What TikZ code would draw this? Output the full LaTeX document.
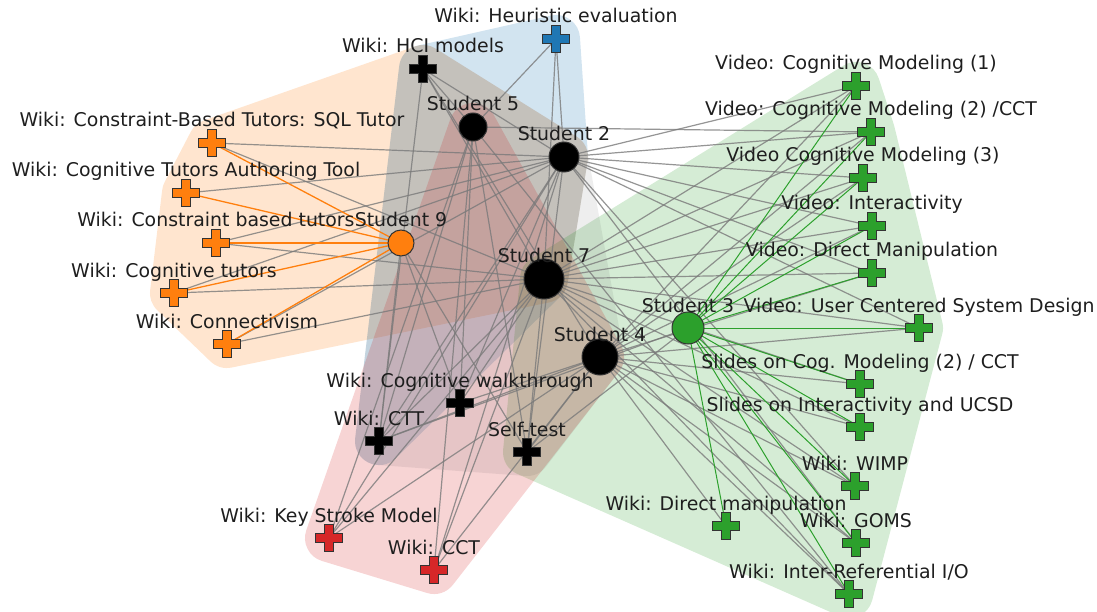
\documentclass[tikz,border=0pt]{standalone}
\usepackage{fontspec}
\setmainfont{DejaVu Sans}
\definecolor{cO}{HTML}{FF7F0E}
\definecolor{cB}{HTML}{1F77B4}
\definecolor{cG}{HTML}{2CA02C}
\definecolor{cR}{HTML}{D62728}
\definecolor{cK}{HTML}{000000}
\definecolor{hullK}{HTML}{202020}
\definecolor{edgegray}{HTML}{7A7A7A}
\definecolor{xline}{HTML}{333333}
\definecolor{txt}{HTML}{1E1E1E}
\pgfdeclarelayer{hulls}
\pgfdeclarelayer{edges}
\pgfsetlayers{hulls,edges,main}
\newcommand\rescross[2]{%
  \filldraw[fill=#2, draw=xline, line width=1, shift={(#1)}]
    (-4.5,-13.5) -- (4.5,-13.5) -- (4.5,-4.5) -- (13.5,-4.5) -- (13.5,4.5) -- (4.5,4.5)
    -- (4.5,13.5) -- (-4.5,13.5) -- (-4.5,4.5) -- (-13.5,4.5) -- (-13.5,-4.5) -- (-4.5,-4.5) -- cycle;}
\begin{document}
\begin{tikzpicture}[x=1pt,y=-1pt,
  lbl/.style={font=\fontsize{18.9}{21}\selectfont, text=txt, anchor=base, inner sep=0},
  ge/.style={draw=edgegray, line width=1.2, opacity=0.8},
  oe/.style={draw=cO, line width=1.3},
  gre/.style={draw=cG, line width=1},
  hull/.style={line width=48, line join=round, draw=#1, fill=#1},
  stud/.style={circle, draw=xline, line width=1, fill=#1, inner sep=0},
]
\useasboundingbox (0,0) rectangle (1097,612);

% ---------- resources (coordinates) ----------
\coordinate (heur) at (556,39);
\coordinate (hci) at (423,69);
\coordinate (sql) at (212,143);
\coordinate (cta) at (186,193);
\coordinate (cbt) at (216,243);
\coordinate (ctut) at (174,293);
\coordinate (conn) at (227,344);
\coordinate (cw) at (460,403);
\coordinate (ctt) at (379,441);
\coordinate (self) at (527,452);
\coordinate (ksm) at (329,538);
\coordinate (cct) at (434,570);
\coordinate (v1) at (856,86);
\coordinate (v2) at (871,132);
\coordinate (v3) at (863,178);
\coordinate (vi) at (872,226);
\coordinate (vdm) at (872,273);
\coordinate (vucsd) at (919,328);
\coordinate (scm) at (860,384);
\coordinate (si) at (860,427);
\coordinate (wimp) at (855,486);
\coordinate (wdm) at (726,526);
\coordinate (goms) at (856,543);
\coordinate (wir) at (849,594);

% ---------- students ----------
\node[stud=cK, minimum size=28] (s5) at (473,127) {};
\node[stud=cK, minimum size=30] (s2) at (564,157) {};
\node[stud=cO, minimum size=26] (s9) at (401,243) {};
\node[stud=cK, minimum size=40] (s7) at (544,279) {};
\node[stud=cK, minimum size=36] (s4) at (600,357) {};
\node[stud=cG, minimum size=32] (s3) at (688,328) {};

% ---------- hulls ----------
\begin{pgfonlayer}{hulls}
\begin{scope}[transparency group, opacity=0.2]
  \filldraw[hull=cO] (sql) -- (hci) -- (s2.center) -- (s7.center) -- (conn) -- (ctut) -- (cta) -- cycle;
\end{scope}
\begin{scope}[transparency group, opacity=0.2]
  \filldraw[hull=cB] (heur) -- (s2.center) -- (s7.center) -- (ctt) -- (hci) -- cycle;
\end{scope}
\begin{scope}[transparency group, opacity=0.2]
  \filldraw[hull=cG] (s7.center) -- (v1) -- (v2) -- (vucsd) -- (wir) -- (self) -- cycle;
\end{scope}
\begin{scope}[transparency group, opacity=0.2]
  \filldraw[hull=cR] (s5.center) -- (s4.center) -- (cct) -- (ksm) -- cycle;
\end{scope}
\begin{scope}[transparency group, opacity=0.08]
  \filldraw[hull=hullK] (hci) -- (s2.center) -- (s4.center) -- (self) -- (ctt) -- cycle;
\end{scope}
\end{pgfonlayer}

% ---------- edges ----------
\begin{pgfonlayer}{edges}
\foreach \a/\b in {heur/s5, heur/s2, heur/s7,
  hci/s5, hci/s2, hci/s7, hci/s4, hci/ctt,
  sql/s2, sql/s7, cta/s2, cbt/s2, cbt/s7, ctut/s2, ctut/s7, conn/s2, conn/s7,
  cw/s5, cw/s2, cw/s7, cw/s4, cw/s9,
  ctt/s5, ctt/s9, ctt/s7, ctt/s4, ctt/s2, ctt/s3,
  self/s5, self/s2, self/s7, self/s4, self/s3, self/s9,
  ksm/s5, ksm/s2, ksm/s7, ksm/s4,
  cct/s5, cct/s7, cct/s4, cct/s2,
  v1/s2, v1/s7, v1/s4,
  v2/s2, v2/s7, v2/s4, v2/s5,
  v3/s2, v3/s7, v3/s4,
  vi/s2, vi/s7, vi/s4,
  vdm/s2, vdm/s7, vdm/s4,
  vucsd/s2, vucsd/s7, vucsd/s4,
  scm/s7, scm/s4, si/s7, si/s4,
  wimp/s2, wimp/s7, wimp/s4,
  wdm/s4,
  goms/s2, goms/s7, goms/s4,
  wir/s5, wir/s7, wir/s4}
  \draw[ge] (\a) -- (\b.center);
\foreach \a in {sql, cta, cbt, ctut, conn}
  \draw[oe] (\a) -- (s9.center);
\foreach \a in {v1, v2, v3, vi, vdm, vucsd, scm, si, wimp, wdm, goms, wir}
  \draw[gre] (\a) -- (s3.center);
\end{pgfonlayer}

% ---------- crosses ----------
\rescross{heur}{cB}
\rescross{hci}{cK}
\foreach \a in {sql, cta, cbt, ctut, conn} {\rescross{\a}{cO}}
\foreach \a in {cw, ctt, self} {\rescross{\a}{cK}}
\foreach \a in {ksm, cct} {\rescross{\a}{cR}}
\foreach \a in {v1, v2, v3, vi, vdm, vucsd, scm, si, wimp, wdm, goms, wir} {\rescross{\a}{cG}}

% ---------- labels ----------
\node[lbl] (s5-l) at ([yshift=16pt]s5.center) {Student 5};
\node[lbl] (s2-l) at ([yshift=16pt]s2.center) {Student 2};
\node[lbl] (s9-l) at ([yshift=16pt]s9.center) {Student 9};
\node[lbl] (s7-l) at ([yshift=16pt]s7.center) {Student 7};
\node[lbl] (s4-l) at ([yshift=16pt]s4.center) {Student 4};
\node[lbl] (s3-l) at ([yshift=16pt]s3.center) {Student 3};
\foreach \a/\t in {heur/{Wiki: Heuristic evaluation}, hci/{Wiki: HCI models},
  sql/{Wiki: Constraint-Based Tutors: SQL Tutor}, cta/{Wiki: Cognitive Tutors Authoring Tool},
  cbt/{Wiki: Constraint based tutors}, ctut/{Wiki: Cognitive tutors}, conn/{Wiki: Connectivism},
  cw/{Wiki: Cognitive walkthrough}, ctt/{Wiki: CTT}, self/{Self-test},
  ksm/{Wiki: Key Stroke Model}, cct/{Wiki: CCT},
  v1/{Video: Cognitive Modeling (1)}, v2/{Video: Cognitive Modeling (2) /CCT},
  v3/{Video Cognitive Modeling (3)}, vi/{Video: Interactivity}, vdm/{Video: Direct Manipulation},
  vucsd/{Video: User Centered System Design}, scm/{Slides on Cog. Modeling (2) / CCT},
  si/{Slides on Interactivity and UCSD}, wimp/{Wiki: WIMP}, wdm/{Wiki: Direct manipulation},
  goms/{Wiki: GOMS}, wir/{Wiki: Inter-Referential I/O}}
  \node[lbl] (\a-l) at ([yshift=16pt]\a) {\t};
\end{tikzpicture}
\end{document}
